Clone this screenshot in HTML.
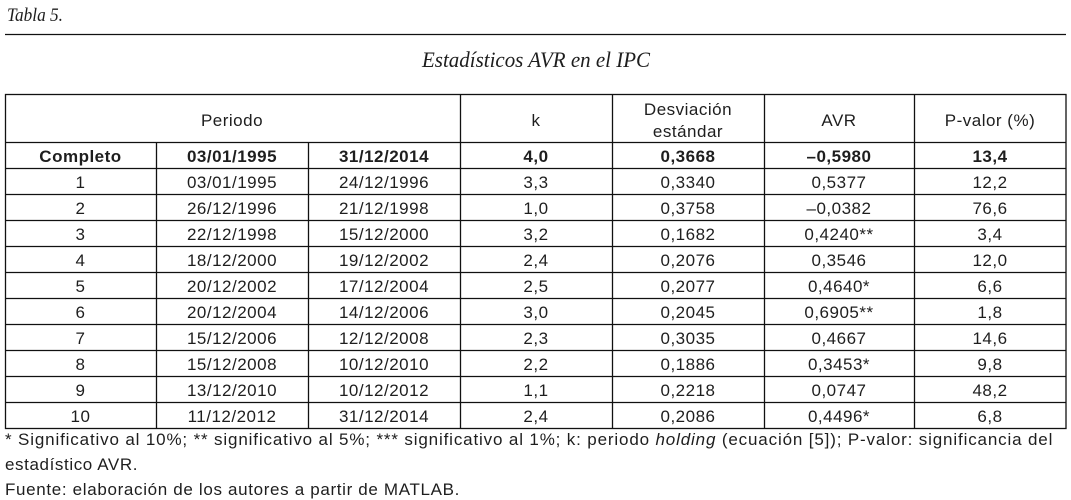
<!DOCTYPE html>
<html><head><meta charset="utf-8">
<style>
html,body{margin:0;padding:0;background:#fff;}
body{width:1071px;height:500px;overflow:hidden;}
svg{display:block;}
.c{font-family:"Liberation Sans",Arial,sans-serif;font-size:17px;fill:#1e1e1e;letter-spacing:0.5px;text-anchor:middle;}
.b{font-weight:bold;}
.f{font-family:"Liberation Sans",Arial,sans-serif;font-size:17px;fill:#1e1e1e;letter-spacing:0.6px;}
.t{font-family:"Liberation Serif","Times New Roman",serif;font-style:italic;fill:#1e1e1e;}
</style></head>
<body>
<svg width="1071" height="500" viewBox="0 0 1071 500" xmlns="http://www.w3.org/2000/svg">
<text class="t" x="7" y="21" font-size="18.5" textLength="56" lengthAdjust="spacingAndGlyphs">Tabla 5.</text>
<line x1="5" y1="34.5" x2="1066" y2="34.5" stroke="#111" stroke-width="1.3"/>
<text class="t" x="422" y="67" font-size="22" textLength="228" lengthAdjust="spacingAndGlyphs">Estadísticos AVR en el IPC</text>

<g stroke="#111" stroke-width="1.3" fill="none">
<rect x="5.5" y="94.5" width="1060.5" height="334"/>
<line x1="5" y1="142.5" x2="1066" y2="142.5"/>
<line x1="5" y1="168.5" x2="1066" y2="168.5"/>
<line x1="5" y1="194.5" x2="1066" y2="194.5"/>
<line x1="5" y1="220.5" x2="1066" y2="220.5"/>
<line x1="5" y1="246.5" x2="1066" y2="246.5"/>
<line x1="5" y1="272.5" x2="1066" y2="272.5"/>
<line x1="5" y1="298.5" x2="1066" y2="298.5"/>
<line x1="5" y1="324.5" x2="1066" y2="324.5"/>
<line x1="5" y1="350.5" x2="1066" y2="350.5"/>
<line x1="5" y1="376.5" x2="1066" y2="376.5"/>
<line x1="5" y1="402.5" x2="1066" y2="402.5"/>
<line x1="156.5" y1="142" x2="156.5" y2="429"/>
<line x1="308.5" y1="142" x2="308.5" y2="429"/>
<line x1="460.5" y1="94" x2="460.5" y2="429"/>
<line x1="612.5" y1="94" x2="612.5" y2="429"/>
<line x1="764.5" y1="94" x2="764.5" y2="429"/>
<line x1="914.5" y1="94" x2="914.5" y2="429"/>
</g>

<text class="c" x="232" y="126">Periodo</text>
<text class="c" x="536" y="126">k</text>
<text class="c" x="688" y="115">Desviación</text>
<text class="c" x="688" y="137">estándar</text>
<text class="c" x="839" y="126">AVR</text>
<text class="c" x="990" y="126">P-valor (%)</text>

<text class="c b" x="80.5" y="162">Completo</text>
<text class="c b" x="232" y="162">03/01/1995</text>
<text class="c b" x="384" y="162">31/12/2014</text>
<text class="c b" x="536" y="162">4,0</text>
<text class="c b" x="688" y="162">0,3668</text>
<text class="c b" x="839" y="162">–0,5980</text>
<text class="c b" x="990" y="162">13,4</text>

<text class="c" x="80.5" y="188">1</text><text class="c" x="232" y="188">03/01/1995</text><text class="c" x="384" y="188">24/12/1996</text><text class="c" x="536" y="188">3,3</text><text class="c" x="688" y="188">0,3340</text><text class="c" x="839" y="188">0,5377</text><text class="c" x="990" y="188">12,2</text>

<text class="c" x="80.5" y="214">2</text><text class="c" x="232" y="214">26/12/1996</text><text class="c" x="384" y="214">21/12/1998</text><text class="c" x="536" y="214">1,0</text><text class="c" x="688" y="214">0,3758</text><text class="c" x="839" y="214">–0,0382</text><text class="c" x="990" y="214">76,6</text>

<text class="c" x="80.5" y="240">3</text><text class="c" x="232" y="240">22/12/1998</text><text class="c" x="384" y="240">15/12/2000</text><text class="c" x="536" y="240">3,2</text><text class="c" x="688" y="240">0,1682</text><text class="c" x="839" y="240">0,4240**</text><text class="c" x="990" y="240">3,4</text>

<text class="c" x="80.5" y="266">4</text><text class="c" x="232" y="266">18/12/2000</text><text class="c" x="384" y="266">19/12/2002</text><text class="c" x="536" y="266">2,4</text><text class="c" x="688" y="266">0,2076</text><text class="c" x="839" y="266">0,3546</text><text class="c" x="990" y="266">12,0</text>

<text class="c" x="80.5" y="292">5</text><text class="c" x="232" y="292">20/12/2002</text><text class="c" x="384" y="292">17/12/2004</text><text class="c" x="536" y="292">2,5</text><text class="c" x="688" y="292">0,2077</text><text class="c" x="839" y="292">0,4640*</text><text class="c" x="990" y="292">6,6</text>

<text class="c" x="80.5" y="318">6</text><text class="c" x="232" y="318">20/12/2004</text><text class="c" x="384" y="318">14/12/2006</text><text class="c" x="536" y="318">3,0</text><text class="c" x="688" y="318">0,2045</text><text class="c" x="839" y="318">0,6905**</text><text class="c" x="990" y="318">1,8</text>

<text class="c" x="80.5" y="344">7</text><text class="c" x="232" y="344">15/12/2006</text><text class="c" x="384" y="344">12/12/2008</text><text class="c" x="536" y="344">2,3</text><text class="c" x="688" y="344">0,3035</text><text class="c" x="839" y="344">0,4667</text><text class="c" x="990" y="344">14,6</text>

<text class="c" x="80.5" y="370">8</text><text class="c" x="232" y="370">15/12/2008</text><text class="c" x="384" y="370">10/12/2010</text><text class="c" x="536" y="370">2,2</text><text class="c" x="688" y="370">0,1886</text><text class="c" x="839" y="370">0,3453*</text><text class="c" x="990" y="370">9,8</text>

<text class="c" x="80.5" y="396">9</text><text class="c" x="232" y="396">13/12/2010</text><text class="c" x="384" y="396">10/12/2012</text><text class="c" x="536" y="396">1,1</text><text class="c" x="688" y="396">0,2218</text><text class="c" x="839" y="396">0,0747</text><text class="c" x="990" y="396">48,2</text>

<text class="c" x="80.5" y="422">10</text><text class="c" x="232" y="422">11/12/2012</text><text class="c" x="384" y="422">31/12/2014</text><text class="c" x="536" y="422">2,4</text><text class="c" x="688" y="422">0,2086</text><text class="c" x="839" y="422">0,4496*</text><text class="c" x="990" y="422">6,8</text>

<text class="f" x="5" y="445" textLength="1048" lengthAdjust="spacing">* Significativo al 10%; ** significativo al 5%; *** significativo al 1%; k: periodo <tspan font-style="italic">holding</tspan> (ecuación [5]); P-valor: significancia del</text>
<text class="f" x="5" y="470">estadístico AVR.</text>
<text class="f" x="5" y="495" textLength="455" lengthAdjust="spacing">Fuente: elaboración de los autores a partir de MATLAB.</text>
</svg>
</body></html>
